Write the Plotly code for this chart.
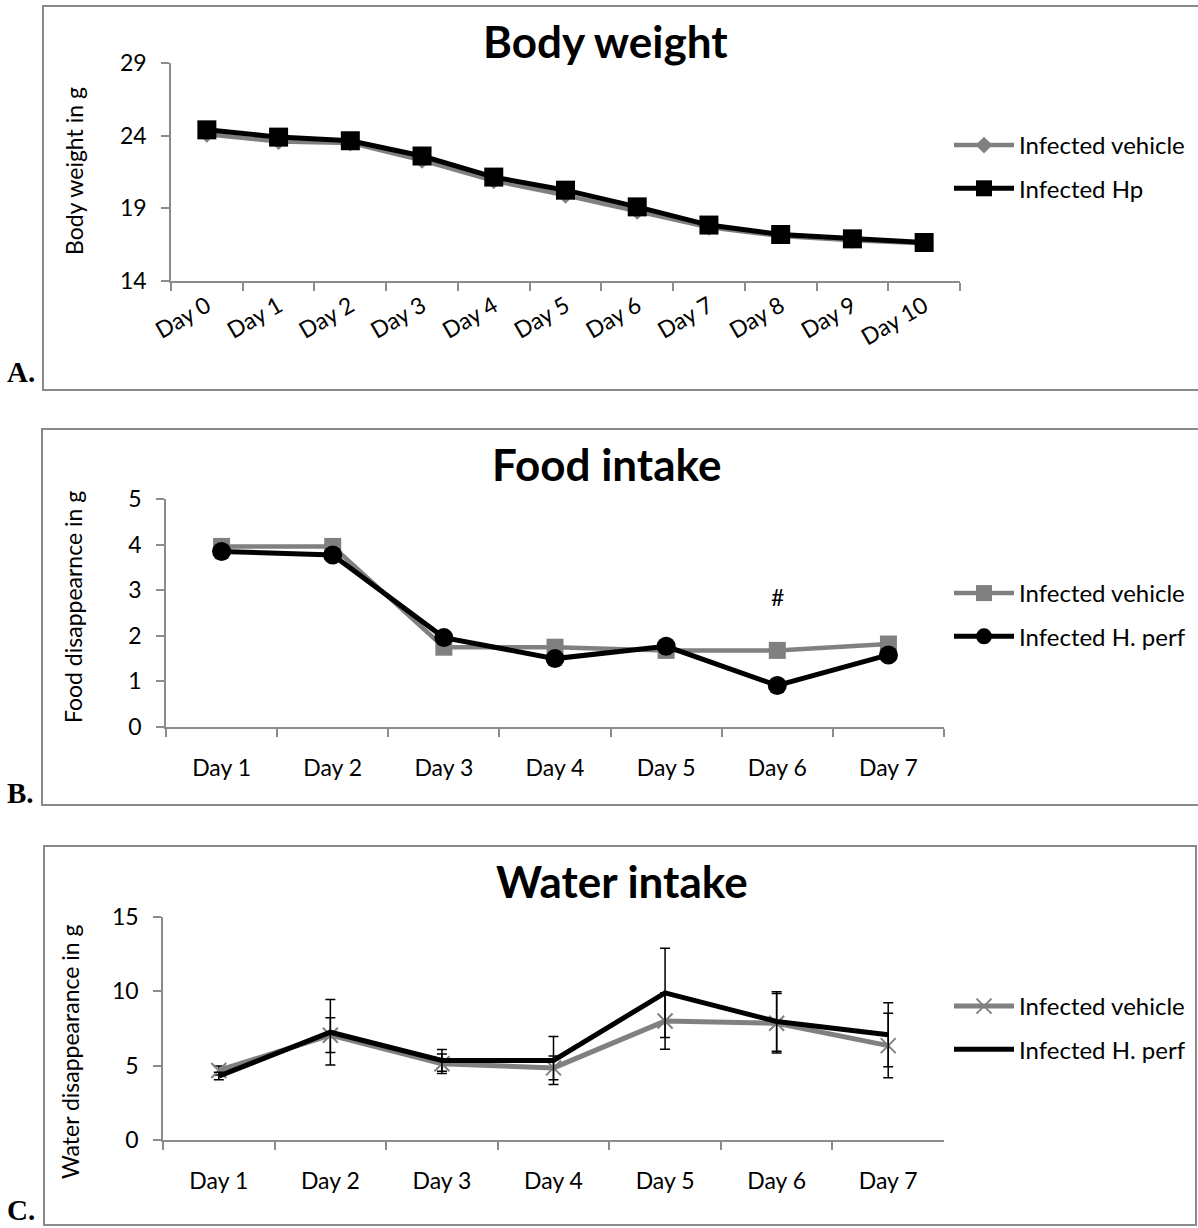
import plotly.graph_objects as go

W, H = 1198, 1228

# ---- data ----
days_bw = ["Day 0", "Day 1", "Day 2", "Day 3", "Day 4", "Day 5",
           "Day 6", "Day 7", "Day 8", "Day 9", "Day 10"]
bw_vehicle = [24.1, 23.6, 23.5, 22.3, 20.9, 19.9, 18.8, 17.7, 17.1, 16.8, 16.6]
bw_hp = [24.4, 23.9, 23.65, 22.6, 21.15, 20.25, 19.1, 17.85, 17.2, 16.9, 16.65]

days_intake = ["Day 1", "Day 2", "Day 3", "Day 4", "Day 5", "Day 6", "Day 7"]
food_vehicle = [3.96, 3.96, 1.75, 1.75, 1.68, 1.68, 1.82]
food_hperf = [3.85, 3.77, 1.96, 1.50, 1.77, 0.91, 1.58]

water_vehicle = [4.68, 7.05, 5.13, 4.85, 8.0, 7.85, 6.35]
water_vehicle_err = [0.3, 1.17, 0.65, 0.8, 1.9, 2.0, 2.17]
water_hperf = [4.3, 7.25, 5.35, 5.35, 9.9, 7.97, 7.08]
water_hperf_err = [0.25, 2.2, 0.73, 1.62, 3.0, 2.0, 2.15]

GREY = "#808080"
AXIS = "#8c8c8c"
FONT = "Lato"


def px(x):
    return x / W


def py(y):
    return 1 - y / H


fig = go.Figure()

# ---- A: body weight ----
fig.add_trace(go.Scatter(
    x=days_bw, y=bw_vehicle, name="Infected vehicle", mode="lines+markers",
    line=dict(color=GREY, width=4.5), marker=dict(symbol="diamond", size=13, color=GREY),
    xaxis="x", yaxis="y", legend="legend", legendgroup="a1"))
fig.add_trace(go.Scatter(
    x=days_bw, y=bw_hp, name="Infected Hp", mode="lines+markers",
    line=dict(color="black", width=5), marker=dict(symbol="square", size=19, color="black"),
    xaxis="x", yaxis="y", legend="legend", legendgroup="a2"))

# ---- B: food intake ----
fig.add_trace(go.Scatter(
    x=days_intake, y=food_vehicle, name="Infected vehicle", mode="lines+markers",
    line=dict(color=GREY, width=4.5), marker=dict(symbol="square", size=17, color=GREY),
    xaxis="x2", yaxis="y2", legend="legend2", legendgroup="b1"))
fig.add_trace(go.Scatter(
    x=days_intake, y=food_hperf, name="Infected H. perf", mode="lines+markers",
    line=dict(color="black", width=5), marker=dict(symbol="circle", size=19, color="black"),
    xaxis="x2", yaxis="y2", legend="legend2", legendgroup="b2"))

# ---- C: water intake ----
fig.add_trace(go.Scatter(
    x=days_intake, y=water_vehicle, name="Infected vehicle", mode="lines+markers",
    line=dict(color=GREY, width=5),
    marker=dict(symbol="x-thin", size=15, color=GREY, line=dict(color=GREY, width=2)),
    error_y=dict(type="data", array=water_vehicle_err, color="black", thickness=1.5, width=5),
    xaxis="x3", yaxis="y3", legend="legend3", legendgroup="c1"))
fig.add_trace(go.Scatter(
    x=days_intake, y=water_hperf, name="Infected H. perf", mode="lines",
    line=dict(color="black", width=5),
    error_y=dict(type="data", array=water_hperf_err, color="black", thickness=1.5, width=5),
    xaxis="x3", yaxis="y3", legend="legend3", legendgroup="c2"))

tickfont = dict(family=FONT, size=23, color="black")
base_axis = dict(showline=True, linecolor=AXIS, linewidth=1.5, ticks="outside",
                 ticklen=8, tickcolor=AXIS, tickwidth=1.5, showgrid=False,
                 zeroline=False, tickfont=tickfont, fixedrange=True, automargin=False)


def xaxis(n, x0, x1, anchor, standoff=20, **kw):
    d = dict(base_axis, type="category", tickson="boundaries",
             range=[-0.5, n - 0.5], domain=[px(x0), px(x1)], anchor=anchor,
             ticklabelstandoff=standoff)
    d.update(kw)
    return d


def yaxis(y_top, y_bot, anchor, rng, dtick):
    return dict(base_axis, range=rng, dtick=dtick, tick0=rng[0],
                domain=[py(y_bot), py(y_top)], anchor=anchor, ticklabelstandoff=10)


legend_base = dict(bgcolor="rgba(0,0,0,0)", borderwidth=0,
                   font=dict(family=FONT, size=24, color="black"),
                   traceorder="grouped", tracegroupgap=9, itemwidth=60,
                   xanchor="left", yanchor="top", itemclick=False, itemdoubleclick=False)

fig.update_layout(
    width=W, height=H,
    margin=dict(l=0, r=0, t=0, b=0, pad=0, autoexpand=False),
    paper_bgcolor="white", plot_bgcolor="white", showlegend=True,
    font=dict(family=FONT, color="black"),
    xaxis=xaxis(len(days_bw), 171, 960, "y", standoff=1, tickangle=-30),
    yaxis=yaxis(63, 281, "x", [14, 29], 5),
    xaxis2=xaxis(len(days_intake), 166, 944, "y2"),
    yaxis2=yaxis(499, 727, "x2", [0, 5], 1),
    xaxis3=xaxis(len(days_intake), 163, 944, "y3"),
    yaxis3=yaxis(917, 1140, "x3", [0, 15], 5),
    legend=dict(legend_base, x=px(949), y=py(123)),
    legend2=dict(legend_base, x=px(949), y=py(571)),
    legend3=dict(legend_base, x=px(949), y=py(984)),
)

# panel frames
frames = [(43, 6, 1205, 390), (42, 429, 1205, 805), (44, 846, 1196, 1225)]
for x0, y0, x1, y1 in frames:
    fig.add_shape(type="rect", xref="paper", yref="paper",
                  x0=px(x0), x1=px(x1), y0=py(y1), y1=py(y0),
                  line=dict(color="#8a8a8a", width=2), layer="below")

# titles
titles = [("Body weight", 605, 41), ("Food intake", 606, 464), ("Water intake", 622, 881)]
for text, cx, cy in titles:
    fig.add_annotation(text=f"<b>{text}</b>", xref="paper", yref="paper",
                       x=px(cx), y=py(cy), xanchor="center", yanchor="middle",
                       showarrow=False, font=dict(family=FONT, size=44, color="black"))

# y-axis titles
ytitles = [("Body weight in g", 74, 171), ("Food disappearnce in g", 73, 607),
           ("Water disappearance in g", 70, 1052)]
for text, cx, cy in ytitles:
    fig.add_annotation(text=text, xref="paper", yref="paper", x=px(cx), y=py(cy),
                       xanchor="center", yanchor="middle", textangle=-90,
                       showarrow=False, font=dict(family=FONT, size=23, color="black"))

# panel letters
for text, bottom in [("A.", 390), ("B.", 811), ("C.", 1228)]:
    fig.add_annotation(text=f"<b>{text}</b>", xref="paper", yref="paper",
                       x=px(5), y=py(bottom), xanchor="left", yanchor="bottom",
                       showarrow=False,
                       font=dict(family="Liberation Serif", size=29, color="black"))

# significance mark on food intake
fig.add_annotation(text="#", x="Day 6", y=2.86, xref="x2", yref="y2",
                   showarrow=False, font=dict(family=FONT, size=23, color="black"))

fig.write_html("out.html")
